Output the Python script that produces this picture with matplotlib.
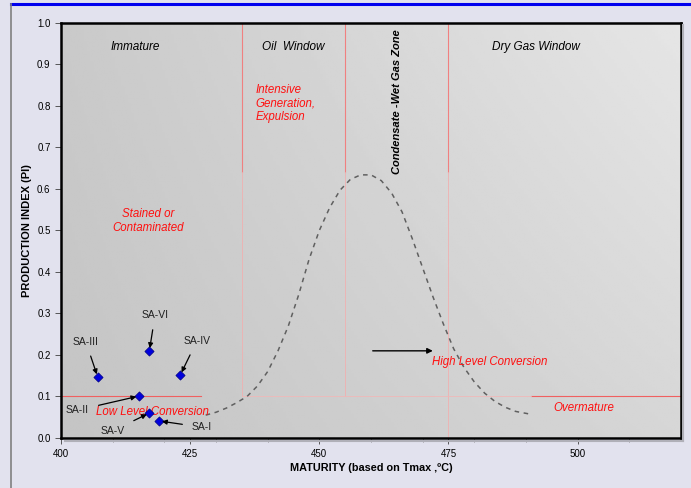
import numpy as np
import matplotlib.pyplot as plt
from matplotlib.lines import Line2D

plt.rcParams['font.family'] = ['Liberation Sans', 'DejaVu Sans']

# sample points (Tmax, PI)
names = ["SA-I", "SA-II", "SA-III", "SA-IV", "SA-V", "SA-VI"]
tmax = [419.0, 415.1, 407.1, 423.1, 417.1, 417.1]
pi = [0.041, 0.101, 0.147, 0.152, 0.060, 0.210]
label_pos = [(427.3, 0.026), (403.2, 0.067), (404.8, 0.232),
             (426.3, 0.234), (410.0, 0.017), (418.2, 0.296)]

# dashed guide curve
curve_x = [428, 430, 432, 434, 436, 438, 440, 442, 444, 446, 448, 450, 452, 454, 456, 458,
           460, 462, 464, 466, 468, 470, 472, 474, 476, 478, 480, 482, 484, 486, 488, 491]
curve_y = [0.055, 0.062, 0.072, 0.085, 0.10, 0.125, 0.16, 0.21, 0.27, 0.345, 0.43, 0.50,
           0.555, 0.597, 0.623, 0.634, 0.634, 0.62, 0.59, 0.545, 0.48, 0.41, 0.34, 0.275,
           0.215, 0.17, 0.135, 0.108, 0.088, 0.074, 0.064, 0.057]

zone_bounds = [435, 455, 475]

fig = plt.figure(figsize=(6.91, 4.88), dpi=100)
fig.patch.set_facecolor('#e2e2ee')
ax = fig.add_axes([0.0883, 0.1025, 0.8972, 0.8504])

# frame decorations
fig.add_artist(Line2D([0.016, 1.0], [0.992, 0.992], color='#0000ee', lw=2.2))
fig.add_artist(Line2D([0.016, 0.016], [0.0, 0.992], color='#808080', lw=1.2))
# soft shadow right/bottom of the plot box
fig.add_artist(Line2D([0.9885, 0.9885], [0.096, 0.948], color='#b0b0b8', lw=1.5))
fig.add_artist(Line2D([0.094, 0.9885], [0.097, 0.097], color='#b0b0b8', lw=1.5))

# gradient background
gx, gy = np.meshgrid(np.linspace(0, 1, 200), np.linspace(0, 1, 200))
grad = 0.77 + 0.07 * gx + 0.02 * gy + 0.04 * gx * gy
ax.imshow(grad, extent=[400, 520, 0, 1], origin='lower', aspect='auto',
          cmap='gray', vmin=0, vmax=1, zorder=0)

ax.set_xlim(400, 520)
ax.set_ylim(0, 1)

# zone lines
for b in zone_bounds:
    ax.plot([b, b], [0.64, 1.0], color='#f08080', lw=0.8, zorder=1)
    ax.plot([b, b], [0.1, 0.64], color='#f0b0b0', lw=0.6, zorder=1)
ax.plot([475, 475], [0, 0.1], color='#f0b0b0', lw=0.6, zorder=1)
ax.plot([400, 427], [0.1, 0.1], color='#f06060', lw=0.8, zorder=1)
ax.plot([491, 520], [0.1, 0.1], color='#f06060', lw=0.8, zorder=1)
ax.plot([435, 491], [0.1, 0.1], color='#f0b8b8', lw=0.6, zorder=1)

ax.plot(curve_x, curve_y, color='#606060', lw=1.1, ls=(0, (3, 3)), zorder=2)

ax.scatter(tmax, pi, marker='D', s=22, color='#0000dd', edgecolors='#000080',
           linewidths=0.5, zorder=5)
for n, x, y, (lx, ly) in zip(names, tmax, pi, label_pos):
    ax.annotate(n, xy=(x, y), xytext=(lx, ly), ha='center', va='center',
                fontsize=7.5, color='#202020',
                arrowprops=dict(arrowstyle='-|>', color='black', lw=0.9,
                                mutation_scale=7, shrinkA=5, shrinkB=2), zorder=6)

# zone titles
top_kw = dict(fontsize=8.5, style='italic', color='black', ha='center', va='center')
ax.text(414.3, 0.942, "Immature", **top_kw)
ax.text(445.0, 0.942, "Oil  Window", **top_kw)
ax.text(491.9, 0.942, "Dry Gas Window", **top_kw)
ax.text(465.1, 0.81, "Condensate -Wet Gas Zone", fontsize=8, style='italic',
        weight='bold', rotation=90, ha='center', va='center')

red_kw = dict(fontsize=8.3, style='italic', color='#ff1010')
ax.text(437.6, 0.806, "Intensive\nGeneration,\nExpulsion", ha='left', va='center',
        linespacing=1.15, **red_kw)
ax.text(416.9, 0.523, "Stained or\nContaminated", ha='center', va='center',
        linespacing=1.15, **red_kw)
ax.text(417.6, 0.063, "Low Level Conversion", ha='center', va='center', zorder=4, **red_kw)
ax.text(483.0, 0.183, "High Level Conversion", ha='center', va='center', **red_kw)
ax.text(501.2, 0.072, "Overmature", ha='center', va='center', **red_kw)
ax.annotate("", xy=(472.5, 0.21), xytext=(459.8, 0.21),
            arrowprops=dict(arrowstyle='-|>', color='black', lw=1.0, mutation_scale=8))

ax.set_xticks([400, 425, 450, 475, 500])
ax.set_xticks(np.arange(410, 520, 10), minor=True)
ax.set_yticks(np.arange(0, 1.01, 0.1))
ax.set_yticklabels([f"{v:.1f}" for v in np.arange(0, 1.01, 0.1)])
ax.tick_params(axis='both', labelsize=7, color='#404040', direction='out', length=4, width=0.6)
ax.tick_params(axis='x', which='minor', length=3, width=0.6, color='#808080')
ax.tick_params(axis='x', pad=4)
for s in ax.spines.values():
    s.set_linewidth(1.8)
    s.set_color('black')

ax.set_xlabel("MATURITY (based on Tmax ,ºC)", fontsize=7.8, weight='bold', labelpad=3)
ax.set_ylabel("PRODUCTION INDEX (PI)", fontsize=8, weight='bold', labelpad=4)

fig.savefig("out.png", dpi=100, facecolor=fig.get_facecolor())
